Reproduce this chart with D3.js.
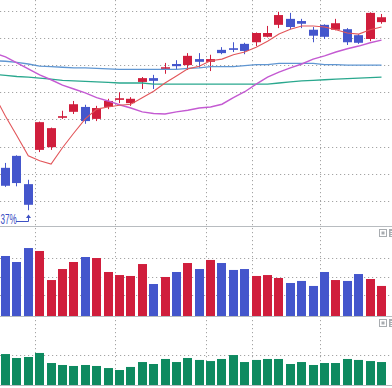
<!DOCTYPE html>
<html lang="en">
<head>
<meta charset="UTF-8">
<script src="https://d3js.org/d3.v7.min.js"></script>
<title>K-line</title>
<style>
    body{margin:0;background:#fff;}
    svg{display:block;}
</style>
</head>
<body>
<svg width="392" height="388"></svg>
<script>
// trading days on screen
let dates = ["03-01","03-02","03-03","03-06","03-07","03-08","03-09","03-10","03-13","03-14",
             "03-15","03-16","03-17","03-20","03-21","03-22","03-23","03-24","03-27","03-28",
             "03-29","03-30","03-31","04-03","04-04","04-06","04-07","04-10","04-11","04-12",
             "04-13","04-14","04-17","04-18"]
let opens  = [17.11,17.33,16.81,17.44,17.49,18.03,18.14,18.23,18.01,18.23,18.36,18.30,18.69,18.76,18.93,19.02,19.00,
              19.11,19.06,19.28,19.31,19.39,19.42,19.52,19.74,19.85,19.81,19.65,19.74,19.65,19.66,19.55,19.48,19.79]
let highs  = [17.20,17.34,16.89,17.96,17.85,18.16,18.34,18.27,18.25,18.38,18.50,18.41,18.78,18.82,19.04,19.09,19.22,
              19.22,19.19,19.33,19.42,19.41,19.60,19.72,19.98,19.96,19.85,19.70,19.75,19.85,19.68,19.57,19.97,19.94]
let lows   = [16.76,16.77,16.33,17.40,17.44,18.01,18.10,17.92,17.97,18.19,18.30,18.25,18.56,18.56,18.84,18.91,18.91,
              18.95,18.89,19.20,19.24,19.20,19.35,19.51,19.68,19.66,19.68,19.42,19.48,19.64,19.37,19.39,19.44,19.76]
let closes = [16.78,16.83,16.43,17.95,17.84,18.06,18.28,17.97,18.21,18.34,18.39,18.38,18.76,18.71,18.96,18.98,19.17,
              19.06,19.11,19.22,19.28,19.26,19.59,19.59,19.92,19.70,19.76,19.54,19.52,19.77,19.42,19.41,19.96,19.88]
// averages: first value belongs to the day before the first candle
let maRed  = [18.45,18.06,17.70,17.33,17.24,17.18,17.48,17.75,18.01,18.19,18.23,18.26,18.28,18.40,18.52,18.67,18.80,18.93,
              18.98,19.08,19.11,19.19,19.24,19.33,19.44,19.57,19.66,19.72,19.72,19.70,19.65,19.59,19.57,19.65,19.70]
let maPurple = [19.22,19.15,19.04,18.93,18.82,18.73,18.63,18.56,18.49,18.40,18.34,18.27,18.21,18.14,18.11,18.10,18.14,18.17,
              18.21,18.23,18.28,18.40,18.51,18.65,18.78,18.87,18.95,19.02,19.11,19.17,19.24,19.30,19.35,19.41,19.46]
let maBlue = [19.08,19.07,19.05,19.02,18.98,18.97,18.96,18.95,18.95,18.94,18.93,18.92,18.92,18.92,18.92,18.92,18.92,18.94,
              18.95,18.97,18.97,18.97,18.99,19.01,19.01,19.03,19.03,19.03,19.03,19.01,19.01,19.00,19.00,19.00,19.00]
let maTeal = [18.83,18.81,18.79,18.78,18.76,18.74,18.72,18.71,18.70,18.69,18.68,18.67,18.67,18.67,18.65,18.65,18.65,18.65,
              18.65,18.65,18.65,18.65,18.65,18.65,18.65,18.67,18.69,18.71,18.72,18.73,18.74,18.75,18.76,18.77,18.78]
let volumes = [6.25,5.60,7.11,6.79,3.65,4.84,5.60,6.14,6.03,4.52,4.19,4.09,5.38,3.22,3.98,4.52,5.49,
               4.84,5.82,5.49,4.74,4.84,4.09,4.19,3.87,3.33,3.55,3.01,4.52,3.65,3.55,4.30,3.76,3.01]
let indicator = [3.14,2.74,2.84,3.25,2.23,2.03,1.93,2.03,1.93,1.72,1.52,1.83,2.33,2.13,2.64,2.33,2.74,
                 2.54,2.43,2.64,3.04,2.33,2.54,2.64,2.64,2.13,2.33,2.03,2.23,2.23,2.64,2.54,2.43,2.33]
let priceTicks = [16.5,17,17.5,18,18.5,19,19.5,20]
let volTicks = [2,4,6]
let indTicks = [3]
let dividers = ["03-06","03-15","03-27","03-31","04-11"]
let lowLabel = "37%"

let W = 392
let up = "#d01e3c", down = "#4456cc", green = "#0e8a60", grid = "#a4a4a4", frame = "#b8bcc0"
let svg = d3.select("svg")
let n = dates.length

let x = d3.scaleLinear().domain([-0.5, n - 0.5]).range([-0.2, 387.2])
let y = d3.scaleLinear().domain([16.04, 20.197]).range([226, 0])
let yv = d3.scaleLinear().domain([-0.238, 9.384]).range([316, 227])
let yi = d3.scaleLinear().domain([0, 7]).range([385, 316])
let left = i => Math.round(x(i) - 4.5)

// dotted grid
let g = svg.append("g").attr("stroke", grid).attr("stroke-dasharray", "1.2,2.8")
let hLines = priceTicks.map(y).concat(volTicks.map(yv), indTicks.map(yi))
g.selectAll(".h").data(hLines).enter().append("line")
    .attr("x1", 0).attr("x2", W)
    .attr("y1", d => Math.round(d) + 0.5).attr("y2", d => Math.round(d) + 0.5)
g.selectAll(".v").data(dividers).enter().append("line")
    .attr("y1", 0).attr("y2", 388)
    .attr("x1", d => left(dates.indexOf(d)) + 0.5)
    .attr("x2", d => left(dates.indexOf(d)) + 0.5)

// panel frames
svg.selectAll(".frame").data([226.5, 316.5, 385.5]).enter().append("line")
    .attr("x1", 0).attr("x2", W).attr("y1", d => d).attr("y2", d => d)
    .attr("stroke", frame).attr("stroke-width", 1.2)

// candles
let main = svg.append("g")
let col = i => closes[i] >= opens[i] ? up : down
let idx = d3.range(n)
main.selectAll(".wick").data(idx).enter().append("rect")
    .attr("x", i => left(i) + 4).attr("width", 1)
    .attr("y", i => y(highs[i])).attr("height", i => y(lows[i]) - y(highs[i]))
    .attr("fill", col)
main.selectAll(".body").data(idx).enter().append("rect")
    .attr("x", left).attr("width", 9)
    .attr("y", i => y(Math.max(opens[i], closes[i])))
    .attr("height", i => Math.max(1.5, Math.abs(y(opens[i]) - y(closes[i]))))
    .attr("fill", col)

// moving averages
let maLine = d3.line().x((d, k) => x(k - 1)).y(d => y(d))
let mas = [[maBlue, "#5f96d2", 1.3], [maTeal, "#2aa88e", 1.3], [maPurple, "#c45ad2", 1.4], [maRed, "#e2565a", 1.1]]
mas.forEach(m => {
    main.append("path").attr("d", maLine(m[0]))
        .attr("fill", "none").attr("stroke", m[1]).attr("stroke-width", m[2])
})

// volume
svg.selectAll(".vol").data(idx).enter().append("rect")
    .attr("x", left).attr("width", 9)
    .attr("y", i => yv(volumes[i])).attr("height", i => 316 - yv(volumes[i]))
    .attr("fill", col)

// lower indicator
svg.selectAll(".ind").data(idx).enter().append("rect")
    .attr("x", left).attr("width", 9)
    .attr("y", i => yi(indicator[i])).attr("height", i => 385 - yi(indicator[i]))
    .attr("fill", green)

// low price marker
let lowI = lows.indexOf(d3.min(lows))
let ax = left(lowI) + 4.5
svg.append("text").text(lowLabel)
    .attr("transform", "translate(0.5,224) scale(0.58,1)")
    .attr("font-family", "Liberation Sans, sans-serif").attr("font-size", 14)
    .attr("fill", "#3d50c4")
svg.append("path").attr("d", `M16,221.5H${ax}V217`)
    .attr("fill", "none").attr("stroke", "#3d50c4")
svg.append("path").attr("d", `M${ax - 2.5},218L${ax},214.5L${ax + 2.5},218Z`).attr("fill", "#3d50c4")

// panel buttons
;[229, 319].forEach(t => {
    svg.append("rect").attr("x", 379.5).attr("y", t + 0.5).attr("width", 7).attr("height", 7)
        .attr("fill", "#fff").attr("stroke", "#a8acb0")
    svg.append("rect").attr("x", 381.5).attr("y", t + 2.5).attr("width", 3).attr("height", 3).attr("fill", "#a8acb0")
    svg.append("rect").attr("x", 389).attr("y", t).attr("width", 8).attr("height", 8).attr("fill", "#a8acb0")
    svg.append("path").attr("d", `M390.5,${t + 2.5}H395M390.5,${t + 4.5}H395M390.5,${t + 6.5}H395`)
        .attr("stroke", "#fff").attr("stroke-width", 1)
})
</script>
</body>
</html>
